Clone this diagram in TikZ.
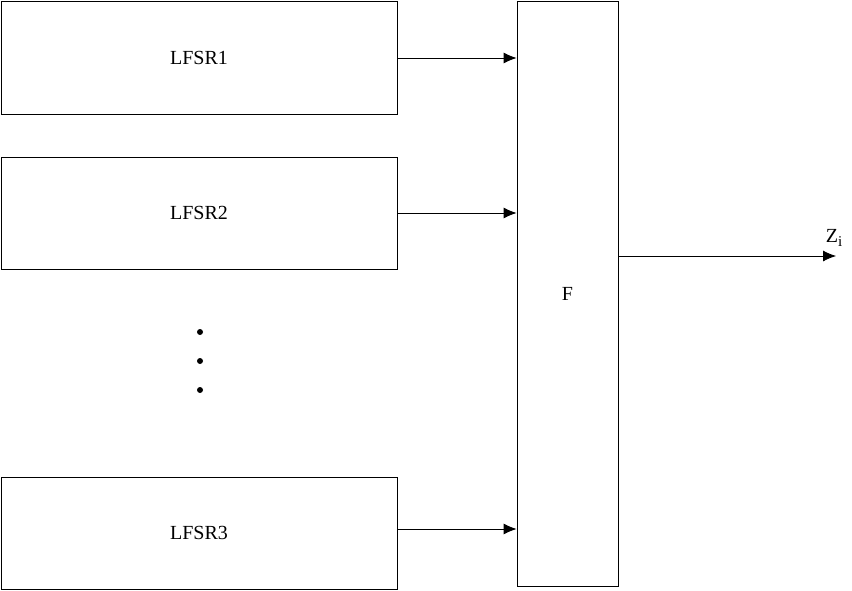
\documentclass[tikz,border=0pt]{standalone}
\usepackage{fontspec}
\setmainfont{Liberation Serif}
\usepackage{tikz}
\usetikzlibrary{arrows.meta}

\tikzset{
  regbox/.style={draw, line width=0.8pt, inner sep=0pt, font=\fontsize{20}{24}\selectfont},
  feed/.style={line width=0.8pt, -{Latex[length=13pt,width=11pt]}}
}

\begin{document}
\begin{tikzpicture}[x=1pt, y=-1pt]
\useasboundingbox (0,0) rectangle (852,591);

% Shift registers
\node[regbox, minimum width=396pt, minimum height=113pt] (lfsr1) at (199,57.5) {LFSR1};
\node[regbox, minimum width=396pt, minimum height=112pt] (lfsr2) at (199,213) {LFSR2};
\node[regbox, minimum width=396pt, minimum height=112pt] (lfsr3) at (199,533) {LFSR3};

% Combining function
\node[regbox, minimum width=101pt, minimum height=585pt] (f) at (567.5,293.5) {F};

% Dots between registers
\fill (200,332) circle (3);
\fill (200,361) circle (3);
\fill (200,390) circle (3);

% Inputs to F
\draw[feed] (lfsr1.east |- 0,58) -- (f.west |- 0,58);
\draw[feed] (lfsr2.east |- 0,213) -- (f.west |- 0,213);
\draw[feed] (lfsr3.east |- 0,529) -- (f.west |- 0,529);

% Output
\coordinate (out) at (836,256);
\draw[feed] (f.east |- out) -- (out);
\node[font=\fontsize{20}{24}\selectfont] (zi) at (834,238) {Z\raisebox{-4pt}{\fontsize{15}{15}\selectfont i}};

\end{tikzpicture}
\end{document}
